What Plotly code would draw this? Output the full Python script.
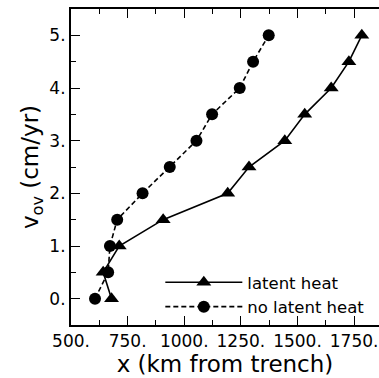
import plotly.graph_objects as go

v_ov = [0.0, 0.5, 1.0, 1.5, 2.0, 2.5, 3.0, 3.5, 4.0, 4.5, 5.0]
x_latent = [679, 642, 713, 907, 1192, 1286, 1444, 1532, 1649, 1727, 1784]
x_nolatent = [606, 664, 672, 704, 816, 936, 1054, 1123, 1245, 1304, 1373]

x_ticks = [500, 750, 1000, 1250, 1500, 1750]
x_tick_text = ["500.", "750.", "1000.", "1250.", "1500.", "1750."]
x_minor = [625, 875, 1125, 1375, 1625, 1875]
y_ticks = [0, 1, 2, 3, 4, 5]
y_tick_text = ["0.", "1.", "2.", "3.", "4.", "5."]
y_minor = [-0.5, 0.5, 1.5, 2.5, 3.5, 4.5, 5.5]

FONT = "DejaVu Sans"

fig = go.Figure()
fig.add_trace(go.Scatter(
    x=x_latent, y=v_ov, mode="lines+markers", name="latent heat",
    line=dict(color="black", width=1.6),
    marker=dict(symbol="triangle-up", size=13, color="black"),
))
fig.add_trace(go.Scatter(
    x=x_nolatent, y=v_ov, mode="lines+markers", name="no latent heat",
    line=dict(color="black", width=1.6, dash="5px,3px"),
    marker=dict(symbol="circle", size=12, color="black"),
))

fig.update_layout(
    width=379, height=378,
    margin=dict(l=71, r=0, t=9, b=53),
    paper_bgcolor="white", plot_bgcolor="white",
    font=dict(family=FONT, color="black"),
    showlegend=True,
    legend=dict(x=0.29, y=0.19, xanchor="left", yanchor="top",
                bgcolor="rgba(0,0,0,0)", font=dict(size=16.5, family=FONT),
                itemwidth=77, tracegroupgap=0),
)
fig.update_xaxes(
    range=[500, 1860], showgrid=False, zeroline=False,
    showline=True, linecolor="black", linewidth=2, mirror="allticks",
    ticks="inside", ticklen=9, tickwidth=1.2, tickcolor="black",
    tickvals=x_ticks, ticktext=x_tick_text,
    tickfont=dict(size=17, family=FONT),
    minor=dict(tickvals=x_minor, ticks="inside", ticklen=5, tickwidth=1.2, tickcolor="black", showgrid=False),
    title=dict(text="x (km from trench)", font=dict(size=23, family=FONT), standoff=2),
)
fig.update_yaxes(
    range=[-0.5, 5.5], showgrid=False, zeroline=False,
    showline=True, linecolor="black", linewidth=2,
    ticks="inside", ticklen=9, tickwidth=1.2, tickcolor="black",
    tickvals=y_ticks, ticktext=y_tick_text,
    tickfont=dict(size=17, family=FONT),
    minor=dict(tickvals=y_minor, ticks="inside", ticklen=5, tickwidth=1.2, tickcolor="black", showgrid=False),
    title=dict(text="v<sub>ov</sub> (cm/yr)", font=dict(size=23, family=FONT), standoff=4),
)

fig.write_html("out.html")
